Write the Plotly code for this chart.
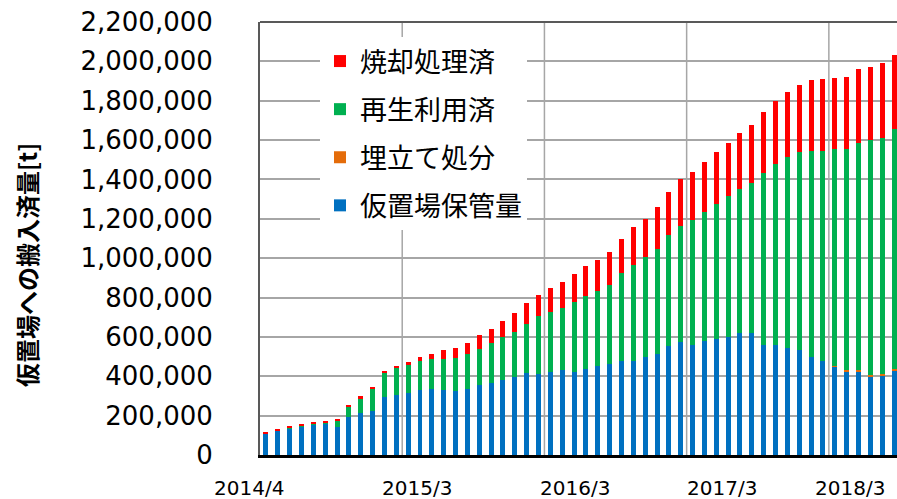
import plotly.graph_objects as go

# ---- data (tonnes) ----
months = []
y, m = 2014, 4
for _ in range(54):
    months.append(f"{y}/{m}")
    m += 1
    if m > 12:
        m = 1
        y += 1

storage = [107, 124, 135, 145, 157, 158, 142, 195, 212, 222, 293, 307, 316, 331, 334, 331, 324, 337,
           358, 365, 383, 396, 417, 414, 422, 430, 422, 439, 452, 461, 477, 480, 498, 514, 552, 573,
           557, 581, 590, 601, 618, 618, 557, 561, 546, 534, 500, 476, 451, 426, 425, 401, 406, 428]
landfill = [0] * 48 + [3, 4, 5, 6, 8, 9]
recycled = [3, 2, 3, 3, 3, 7, 33, 50, 76, 115, 128, 139, 143, 148, 152, 159, 170, 174,
            182, 205, 216, 229, 250, 290, 305, 317, 353, 370, 382, 404, 446, 485, 506, 532, 564, 592,
            635, 655, 686, 714, 733, 763, 875, 920, 970, 1006, 1047, 1069, 1100, 1124, 1154, 1191, 1199, 1218]
incinerated = [3, 3, 6, 5, 5, 7, 9, 8, 10, 6, 7, 8, 15, 20, 28, 45, 49, 59,
               69, 70, 84, 97, 104, 111, 122, 130, 143, 153, 155, 167, 174, 191, 196, 212, 221, 237,
               248, 255, 264, 272, 284, 295, 311, 320, 330, 340, 357, 364, 360, 368, 376, 375, 377, 376]
scale = 1000
storage = [v * scale for v in storage]
landfill = [v * scale for v in landfill]
recycled = [v * scale for v in recycled]
incinerated = [v * scale for v in incinerated]

series_names = ["仮置場保管量", "埋立て処分", "再生利用済", "焼却処理済"]
series_colors = ["#0070C0", "#E46C0A", "#00B050", "#FF0000"]
series_values = [storage, landfill, recycled, incinerated]
legend_ranks = [4, 3, 2, 1]

x_labels = ["2014/4", "2015/3", "2016/3", "2017/3", "2018/3"]
x_label_pos = [-1.43, 12.74, 26.08, 38.48, 49.28]
year_boundaries = [11.5, 23.5, 35.5, 47.5]

y_ticks = list(range(0, 2200001, 200000))
y_ticktext = [f"{v:,}" for v in y_ticks]

# ---- figure ----
fig = go.Figure()
for name, color, vals, rank in zip(series_names, series_colors, series_values, legend_ranks):
    fig.add_trace(go.Bar(
        x=list(range(len(months))), y=vals, name=name,
        marker=dict(color=color, line=dict(width=0)),
        legendgroup=name, legendrank=rank, customdata=months,
        hovertemplate="%{customdata}<br>" + name + ": %{y:,}<extra></extra>",
    ))

W, H = 897, 499
L, R, T, B = 260, 0, 22, 44
pw, ph = W - L - R, H - T - B
x_range = [-0.5, 53.25]

def px_x(px):
    return (px - L) / pw

def px_y(py):
    return (H - B - py) / ph

def data_to_paper_x(v):
    return (v - x_range[0]) / (x_range[1] - x_range[0])

shapes = []
for xb in year_boundaries:
    shapes.append(dict(type="line", xref="x", yref="paper", x0=xb, x1=xb, y0=0, y1=1,
                       line=dict(color="#A6A6A6", width=1.5), layer="below"))
shapes.append(dict(type="line", xref="paper", yref="paper", x0=0, x1=1, y0=1, y1=1,
                   line=dict(color="#595959", width=2)))

annotations = []
for lab, pos in zip(x_labels, x_label_pos):
    annotations.append(dict(text=lab, x=data_to_paper_x(pos), xref="paper", y=px_y(487.5), yref="paper",
                            showarrow=False, xanchor="center", yanchor="middle",
                            font=dict(family="DejaVu Sans", size=20, color="#000000")))
annotations.append(dict(text="<b>仮置場への搬入済量[t]</b>", x=px_x(26), xref="paper",
                        y=px_y(265), yref="paper", textangle=-90, showarrow=False,
                        xanchor="center", yanchor="middle",
                        font=dict(family="Noto Sans CJK JP", size=24, color="#000000")))

fig.update_layout(
    width=W, height=H,
    margin=dict(l=L, r=R, t=T, b=B, autoexpand=False),
    paper_bgcolor="white", plot_bgcolor="white",
    barmode="stack", bargap=0.58,
    showlegend=True,
    legend=dict(
        x=px_x(320), y=px_y(37), xanchor="left", yanchor="top",
        bgcolor="white", borderwidth=0,
        traceorder="grouped", tracegroupgap=10,
        font=dict(family="Noto Sans CJK JP", size=27, color="#000000"),
    ),
    xaxis=dict(
        range=x_range, showgrid=False, showticklabels=False, ticks="",
        showline=True, linecolor="#000000", linewidth=3, zeroline=False,
    ),
    yaxis=dict(
        range=[0, 2200000], tickvals=y_ticks, ticktext=y_ticktext,
        showgrid=True, gridcolor="#A6A6A6", gridwidth=1.5,
        showline=True, linecolor="#595959", linewidth=2, zeroline=False,
        ticks="", ticklabelstandoff=40,
        tickfont=dict(family="DejaVu Sans", size=26, color="#000000"),
    ),
    shapes=shapes,
    annotations=annotations,
)

fig.write_html("out.html", config={"displayModeBar": False},
               post_script="document.body.style.margin='0px';document.body.style.overflow='hidden';")
